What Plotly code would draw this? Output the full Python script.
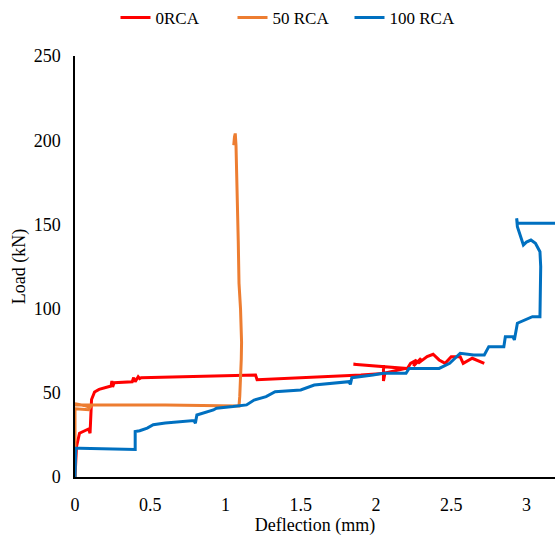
import plotly.graph_objects as go

# Load-deflection curves (deflection in mm, load in kN)
rca0_defl = [0, 0.005, 0.01, 0.03, 0.09, 0.1, 0.11, 0.13, 0.16, 0.24, 0.245, 0.25, 0.26,
             0.38, 0.39, 0.40, 0.42, 0.43, 0.44, 1.2, 1.21, 1.9, 2.05, 2.05, 2.05, 2.06,
             2.2, 1.85, 2.21, 2.23, 2.27, 2.25, 2.3, 2.28, 2.34, 2.38, 2.42, 2.46, 2.5,
             2.56, 2.58, 2.64, 2.72]
rca0_load = [0, 10, 18, 26, 28.5, 26, 46, 50.5, 52, 54, 57, 53.5, 56,
             56.6, 59, 56.5, 59.5, 58.5, 59, 60.6, 57.8, 60.5, 61.5, 66.5, 57, 61.8,
             64.5, 67, 64.5, 67.5, 69.5, 66, 70.5, 67.5, 71.5, 72.9, 69.5, 67.5, 71.4,
             71.4, 67.5, 70.5, 67.5]

rca50_defl = [0, 0, 0.09, 0.1, 0.06, 0.0, 0.005, 0.3, 0.6, 1.09, 1.095, 1.105, 1.107,
              1.1, 1.09, 1.085, 1.08, 1.075, 1.07, 1.065, 1.06, 1.055]
rca50_load = [0, 40.5, 40, 41.3, 42.5, 43.5, 42.8, 42.8, 42.7, 42.2, 48, 70, 80,
              100, 115, 140, 165, 185, 197, 204, 202, 197]

rca100_defl = [0, 0.005, 0.03, 0.4, 0.4, 0.43, 0.48, 0.52, 0.6, 0.79, 0.8, 0.81, 0.92,
               0.94, 1.05, 1.14, 1.19, 1.27, 1.33, 1.5, 1.59, 1.72, 1.82, 1.83, 1.84,
               1.98, 2.05, 2.2, 2.22, 2.42, 2.49, 2.56, 2.65, 2.72, 2.75, 2.85, 2.86,
               2.91, 2.92, 2.94, 3.04, 3.09, 3.095, 3.09, 3.06, 3.03, 3.0, 2.98, 2.96,
               2.94, 2.935, 2.94, 3.3]
rca100_load = [0, 17, 17, 16.4, 27, 27.5, 29, 31, 32, 33.5, 32, 36.8, 39.8,
               40.8, 41.8, 42.8, 45.7, 47.7, 50.6, 51.7, 54.6, 55.6, 56.6, 55, 59,
               60.6, 61.6, 61.6, 64.5, 64.5, 67.5, 73.5, 72.4, 72.4, 77.4, 77.4, 83.3,
               83.3, 81.4, 91.3, 95.2, 95.2, 125, 133.8, 138.8, 140.7, 139.5, 137.8, 142.7,
               148.6, 153.6, 150.7, 150.7]

series = [
    ("0RCA", rca0_defl, rca0_load, "#FF0000"),
    ("50 RCA", rca50_defl, rca50_load, "#ED7D31"),
    ("100 RCA", rca100_defl, rca100_load, "#0070C0"),
]

font_family = "Liberation Serif, Times New Roman, serif"

fig = go.Figure()
for name, xs, ys, color in series:
    fig.add_trace(go.Scatter(
        x=xs, y=ys, name=name, mode="lines",
        line=dict(color=color, width=3),
    ))

fig.update_layout(
    width=555, height=536,
    paper_bgcolor="white", plot_bgcolor="white",
    margin=dict(l=75, r=0, t=56, b=59),
    font=dict(family=font_family, size=18, color="black"),
    showlegend=True,
    legend=dict(
        orientation="h", x=0.45, xanchor="center",
        yref="container", y=1.0, yanchor="top",
        font=dict(family=font_family, size=17, color="black"),
        itemwidth=30, entrywidth=72, entrywidthmode="pixels",
        bgcolor="rgba(0,0,0,0)",
    ),
    xaxis=dict(
        range=[0, 3.19], dtick=0.5, tickformat="~g",
        showgrid=False, zeroline=False,
        showline=True, linecolor="black", linewidth=2,
        ticks="", ticklabelstandoff=10,
        title=dict(text="Deflection (mm)", standoff=5,
                   font=dict(family=font_family, size=18)),
        tickfont=dict(family=font_family, size=18),
    ),
    yaxis=dict(
        range=[0, 250], dtick=50,
        showgrid=False, zeroline=False,
        showline=True, linecolor="black", linewidth=1.5,
        ticks="", ticklabelstandoff=9,
        title=dict(text="Load (kN)", standoff=3,
                   font=dict(family=font_family, size=18)),
        tickfont=dict(family=font_family, size=18),
    ),
)

fig.write_html("out.html")
